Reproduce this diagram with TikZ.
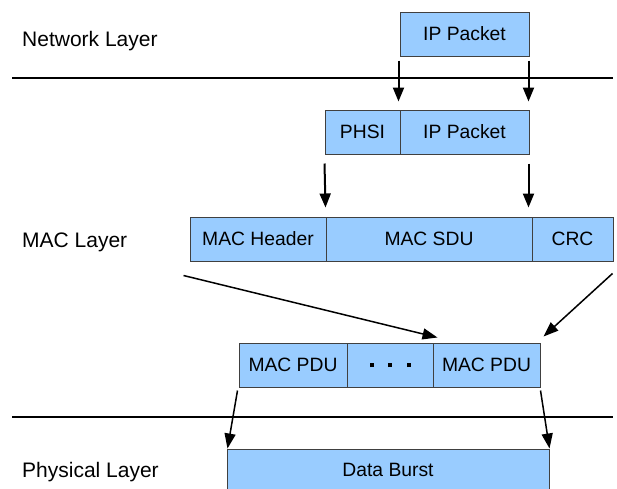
\documentclass[tikz,border=0pt]{standalone}
\usepackage{fontspec}
\setmainfont{Liberation Sans}
\usetikzlibrary{arrows.meta}
\definecolor{boxfill}{HTML}{99CCFF}
\definecolor{boxline}{HTML}{404040}
\begin{document}
\begin{tikzpicture}[x=1pt,y=-1pt,
  box/.style={draw=boxline, line width=1pt, fill=boxfill, inner sep=0pt,
    minimum height=44pt, font=\fontsize{19.3}{23}\selectfont},
  layer/.style={anchor=base west, inner sep=0pt, font=\fontsize{21}{25}\selectfont},
  sep/.style={line width=1.3pt},
  arr/.style={line width=2pt, -{Triangle[length=14pt,width=11pt]}},
  darr/.style={line width=1.5pt, -{Triangle[length=15pt,width=11pt]}}]
\useasboundingbox (0,0) rectangle (617,488);
% separators
\coordinate (s1a) at (12,78);
\coordinate (s1b) at (613,78);
\coordinate (s2a) at (12,417);
\coordinate (s2b) at (613,417);
\draw[sep] (s1a) -- (s1b);
\draw[sep] (s2a) -- (s2b);
% layer labels
\node[layer] (netl) at (22,46) {Network Layer};
\node[layer] (macl) at (22,247) {MAC Layer};
\node[layer] (phyl) at (22,477) {Physical Layer};
% boxes
\node[box, minimum width=129pt] (ip1) at (464.5,34) {IP Packet};
\node[box, minimum width=75pt] (phsi) at (362.5,132) {PHSI};
\node[box, minimum width=129pt] (ip2) at (464.5,132) {IP Packet};
\node[box, minimum width=136pt] (mach) at (258,239) {MAC Header};
\node[box, minimum width=206pt] (macsdu) at (429,239) {MAC SDU};
\node[box, minimum width=81pt] (crc) at (572.5,239) {CRC};
\node[box, minimum width=108pt] (pdu1) at (293,365) {MAC PDU};
\node[box, minimum width=86pt] (dots) at (390,365) {\rule{4pt}{4pt}\hspace{14.5pt}\rule{4pt}{4pt}\hspace{14.5pt}\rule{4pt}{4pt}};
\node[box, minimum width=107pt] (pdu2) at (486.5,365) {MAC PDU};
\node[box, minimum width=322pt, minimum height=42pt] (burst) at (388,470) {Data Burst};
% arrows
\draw[arr] ([shift={(-1,4)}]ip1.south west) -- ([shift={(-1,-8)}]ip2.north west);
\draw[arr] ([shift={(-1,4)}]ip1.south east) -- ([shift={(-1,-8)}]ip2.north east);
\draw[arr] ([shift={(0,9)}]phsi.south west) -- ([shift={(-1,-9)}]mach.north east);
\draw[arr] ([shift={(-1,9)}]ip2.south east) -- ([shift={(-4,-9)}]macsdu.north east);
\draw[darr] ([shift={(-6,14)}]mach.south west) -- ([shift={(5,-5)}]pdu2.north west);
\draw[darr] ([shift={(-1,12)}]crc.south east) -- ([shift={(3,-6)}]pdu2.north east);
\draw[darr] ([shift={(-1,3)}]pdu1.south west) -- ([shift={(1,0)}]burst.north west);
\draw[darr] ([shift={(0,3)}]pdu2.south east) -- (burst.north east);
\end{tikzpicture}
\end{document}
